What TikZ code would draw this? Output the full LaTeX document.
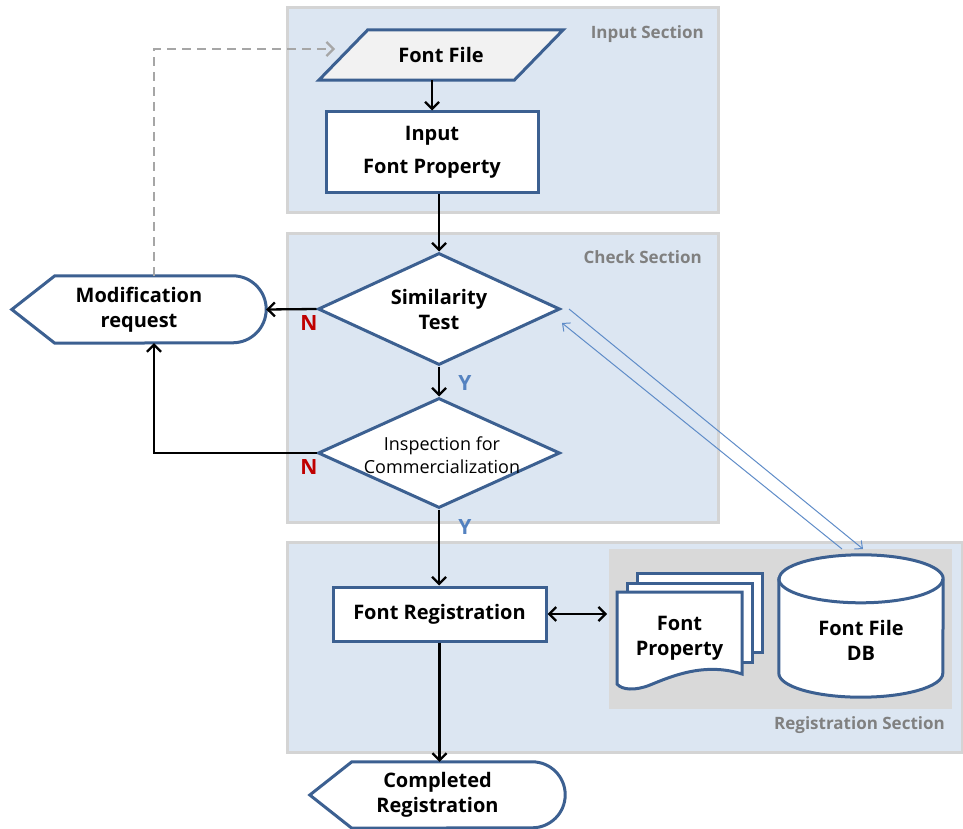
\documentclass[tikz,border=0pt]{standalone}
\usepackage{fontspec}
\setmainfont{Open Sans}
\usetikzlibrary{arrows.meta,shapes.geometric}
\definecolor{secfill}{RGB}{220,230,242}
\definecolor{secline}{RGB}{212,212,212}
\definecolor{nodeline}{RGB}{60,96,145}
\definecolor{graybox}{RGB}{217,217,217}
\definecolor{lblgray}{RGB}{128,128,128}
\definecolor{nred}{RGB}{192,0,0}
\definecolor{yblue}{RGB}{84,130,192}
\definecolor{dbblue}{RGB}{95,140,200}
\definecolor{dashgray}{RGB}{166,166,166}
\definecolor{ffill}{RGB}{242,242,242}
\pgfdeclarelayer{bg}
\pgfdeclarelayer{shapes}
\pgfsetlayers{bg,shapes,main}
\begin{document}
\begin{tikzpicture}[x=1pt,y=-1pt,
  section/.style={fill=secfill,draw=secline,line width=3pt},
  shapeline/.style={draw=nodeline,line width=3pt,fill=white},
  txt/.style={font=\fontsize{20}{25}\selectfont\bfseries,align=center,inner sep=0pt},
  box/.style={shapeline,txt,rectangle},
  dia/.style={shapeline,diamond,inner sep=0pt,minimum width=242pt},
  seclabel/.style={font=\fontsize{17}{20}\selectfont\bfseries,text=lblgray,anchor=east,inner sep=0pt},
  flow/.style={line width=2.3pt,-{Straight Barb[length=7pt,width=14pt]}},
  dflow/.style={line width=2.3pt,{Straight Barb[length=7pt,width=14pt]}-{Straight Barb[length=7pt,width=14pt]}},
  dashflow/.style={line width=2.3pt,draw=dashgray,dash pattern=on 9pt off 6pt,-{Straight Barb[length=7pt,width=14pt]}},
  dbflow/.style={line width=1pt,draw=dbblue,-{Straight Barb[length=6pt,width=11pt]}},
  nlab/.style={font=\fontsize{21}{25}\selectfont\bfseries,text=nred,inner sep=0pt},
  ylab/.style={font=\fontsize{21}{25}\selectfont\bfseries,text=yblue,inner sep=0pt}]
\useasboundingbox (0,0) rectangle (963,829);
\begin{pgfonlayer}{bg}
  \draw[section] (287,8) rectangle (718,212);
  \draw[section] (287,233) rectangle (718,522);
  \draw[section] (287,542) rectangle (962,752);
  \fill[graybox] (609,549) rectangle (952,709);
\end{pgfonlayer}
% section labels
\node[seclabel] (lin) at (704,34) {Input Section};
\node[seclabel] (lch) at (702,257) {Check Section};
\node[seclabel] (lrg) at (945,725) {Registration Section};
% nodes
\node[txt, minimum width=195pt, minimum height=50pt] (ff) at (441,55) {Font File};
\node[box, minimum width=212pt, minimum height=81pt, font=\fontsize{20}{33}\selectfont\bfseries] (ifp) at (432,152.5) {Input\\Font Property};
\node[dia, minimum height=112pt, label={[txt]center:{Similarity\\Test}}] (sim) at (439,309) {};
\node[dia, minimum height=110pt, label={[txt,font=\fontsize{18}{23}\selectfont,xshift=3pt,yshift=-2pt]center:{Inspection for\\Commercialization}}] (insp) at (439,453) {};
\node[box, minimum width=213pt, minimum height=54pt] (freg) at (439.5,614) {Font Registration};
\node[txt, minimum width=254pt, minimum height=67pt] (mod) at (139,309.5) {Modification\\request};
\node[txt, minimum width=255pt, minimum height=66pt] (done) at (437.5,795) {Completed\\Registration};
\node[txt, minimum width=125pt, minimum height=92pt] (fp) at (679.5,638) {Font\\Property};
\node[txt, minimum width=164pt, minimum height=142pt, label={[txt,yshift=-14pt]center:{Font File\\DB}}] (db) at (861,626) {};
% custom shapes
\begin{pgfonlayer}{shapes}
  \draw[shapeline,fill=ffill] ([xshift=24.5pt]ff.north west) -- ([xshift=24.5pt]ff.north east)
     -- ([xshift=-24.5pt]ff.south east) -- ([xshift=-24.5pt]ff.south west) -- cycle;
  \draw[shapeline] (mod.west) -- ([xshift=43pt]mod.north west) -- ([xshift=-33.5pt]mod.north east)
     arc(-90:90:33.5) -- ([xshift=43pt]mod.south west) -- cycle;
  \draw[shapeline] (done.west) -- ([xshift=42pt]done.north west) -- ([xshift=-33pt]done.north east)
     arc(-90:90:33) -- ([xshift=42pt]done.south west) -- cycle;
  \draw[shapeline] (637,573) rectangle (762,652);
  \draw[shapeline] (627,583) rectangle (752,662);
  \draw[shapeline] (617,684) -- (617,592) -- (742,592) -- (742,674)
     .. controls (705,662) and (672,676) .. (650,685) .. controls (635,691) and (622,690) .. (617,684) -- cycle;
  \draw[shapeline] ([yshift=-24pt]db.north west) -- ([yshift=24pt]db.south west)
     arc(180:0:82 and 24) -- ([yshift=-24pt]db.north east) arc(0:-180:82 and 24) -- cycle;
  \draw[shapeline,fill=none] ([yshift=-24pt]db.north west) arc(180:0:82 and 24);
\end{pgfonlayer}
% helper coordinates
\coordinate (ffin) at (335,49);
\coordinate (fpin) at (607,614);
\coordinate (simout) at (569,309);
\coordinate (simin) at (562,323);
\coordinate (dbin) at (863,549);
\coordinate (dbout) at (842,549);
% connectors
\draw[flow] (ifp.north |- ff.south) -- (ifp.north);
\draw[flow] (sim.north |- ifp.south) -- (sim.north);
\draw[flow] (sim.west) -- (mod.east);
\draw[flow] (sim.south) -- (insp.north);
\draw[flow] (insp.west) -| ([xshift=15pt]mod.south);
\draw[flow] (insp.south) -- (insp.south |- freg.north);
\draw[flow] (freg.south) -- (freg.south |- done.north);
\draw[dflow] (freg.east) -- (fpin);
\draw[dashflow] ([xshift=15pt]mod.north) |- (ffin);
\draw[dbflow] (simout) -- (dbin);
\draw[dbflow] (dbout) -- (simin);
% decision labels
\node[nlab] (n1) at (309,323) {N};
\node[nlab] (n2) at (309,467) {N};
\node[ylab] (y1) at (465,383) {Y};
\node[ylab] (y2) at (465,527) {Y};
\end{tikzpicture}
\end{document}
